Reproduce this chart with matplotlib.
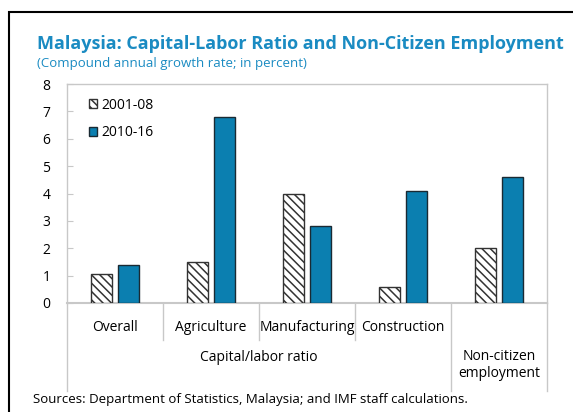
import matplotlib
matplotlib.use("Agg")
import matplotlib.pyplot as plt
from matplotlib.patches import Rectangle
from matplotlib.lines import Line2D
import numpy as np

categories = ["Overall", "Agriculture", "Manufacturing", "Construction", ""]
groups = ["Capital/labor ratio", "Non-citizen\nemployment"]
group_members = [4, 1]
series_names = ["2001-08", "2010-16"]
values_2001_08 = [1.05, 1.5, 4.0, 0.6, 2.0]
values_2010_16 = [1.4, 6.8, 2.8, 4.1, 4.6]
yticks = [0, 1, 2, 3, 4, 5, 6, 7, 8]

title = "Malaysia: Capital-Labor Ratio and Non-Citizen Employment"
subtitle = "(Compound annual growth rate; in percent)"
source = "Sources: Department of Statistics, Malaysia; and IMF staff calculations."

blue = "#0b7fb0"
title_blue = "#1a8bc2"
grey = "#c8c8c8"
plt.rcParams['font.family'] = ['Open Sans', 'DejaVu Sans']
plt.rcParams['hatch.linewidth'] = 1.1
plt.rcParams['hatch.color'] = '#333333'

W, H = 573, 412
fig = plt.figure(figsize=(W / 100, H / 100), dpi=100)

# outer frame
fig.patches.append(Rectangle((9 / W, -0.1), 1.2, 1 - 12 / H + 0.1, transform=fig.transFigure,
                             fill=False, edgecolor="black", linewidth=1.5, figure=fig))

ax = fig.add_axes([67 / W, 1 - 303 / H, 480 / W, (303 - 84) / H])
x = np.arange(len(categories))
w = 0.224
off = 0.142
ax.bar(x - off, values_2001_08, w, color="white", edgecolor="#333333", hatch="\\\\\\\\",
       linewidth=1.0, label=series_names[0], zorder=3)
ax.bar(x + off, values_2010_16, w, color=blue, edgecolor="#1a2a33",
       linewidth=1.0, label=series_names[1], zorder=3)

ax.set_xlim(-0.5, len(categories) - 0.5)
ax.set_ylim(yticks[0], yticks[-1])
ax.set_yticks(yticks)
ax.tick_params(axis='y', length=4, color=grey, labelsize=10, pad=12, direction='in')
ax.set_xticks(x)
ax.set_xticklabels(categories, fontsize=10)
ax.tick_params(axis='x', length=0, pad=12)
for s in ax.spines.values():
    s.set_color(grey)
    s.set_linewidth(1.0)
ax.spines['bottom'].set_linewidth(1.5)

# category separators
trans = ax.get_xaxis_transform()
bounds = np.cumsum([0] + group_members) - 0.5
for b in np.arange(-0.5, len(categories) + 0.5, 1.0):
    if np.any(np.isclose(bounds, b)):
        y0 = -0.40
    else:
        y0 = -0.17
    ax.add_line(Line2D([b, b], [0, y0], transform=trans, color=grey, lw=1.0, clip_on=False))

# group labels
for gi, g in enumerate(groups):
    center = (bounds[gi] + bounds[gi + 1]) / 2
    yy = -0.247 if gi == 0 else -0.283
    ax.text(center, yy, g, transform=trans, ha='center', va='center', fontsize=10,
            linespacing=1.2)

leg = ax.legend(loc='upper left', bbox_to_anchor=(0.02, 0.995), frameon=False, fontsize=10,
                handlelength=0.6, handleheight=0.6, handletextpad=0.3, labelspacing=0.92)

fig.text(37 / W, 1 - 44 / H, title, color=title_blue, fontsize=13, fontweight='bold',
         ha='left', va='center')
fig.text(37 / W, 1 - 63 / H, subtitle, color=title_blue, fontsize=9.5, ha='left', va='center')
fig.text(33 / W, 1 - 399 / H, source, color='black', fontsize=9.5, ha='left', va='center')

fig.savefig("out.png", dpi=100)
